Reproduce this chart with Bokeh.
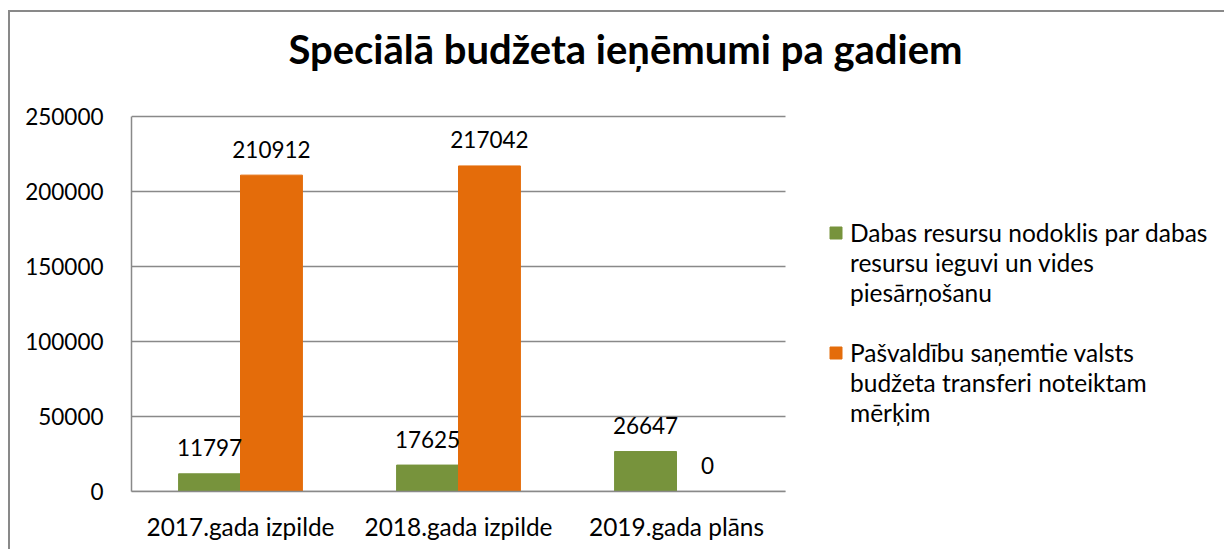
from bokeh.plotting import figure
from bokeh.models import (ColumnDataSource, Range1d, FixedTicker, Legend,
                          LegendItem, Label, NumeralTickFormatter)
from bokeh.transform import dodge
from bokeh.core.properties import value
from bokeh.embed import file_html
from bokeh.resources import INLINE

title_text = "Speciālā budžeta ieņēmumi pa gadiem"
categories = ["2017.gada izpilde", "2018.gada izpilde", "2019.gada plāns"]
dabas_resursu = [11797, 17625, 26647]
transferi = [210912, 217042, 0]
series_lines = [
    ["Dabas resursu nodoklis par dabas", "resursu ieguvi un vides", "piesārņošanu"],
    ["Pašvaldību saņemtie valsts", "budžeta transferi noteiktam", "mērķim"],
]
y_ticks = [0, 50000, 100000, 150000, 200000, 250000]

FONT = "Lato"
GREEN = "#77933C"
ORANGE = "#E46C0A"
GRID = "#898989"
FS_TICK = "22.5px"
FS_CAT = "24.4px"
FS_LEG = "24.5px"

# layout (pixels): chart area spans 131..785 horizontally, 116..491 vertically;
# the frame is extended to the canvas edge so title and legend can live inside it
W, H = 1216, 539
LEFT, BOTTOM = 121, 60
plot_px_w = 654
plot_px_h = 375
frame_w = W - LEFT
frame_h = H - BOTTOM
n = len(categories)
y_max = y_ticks[-1]
x_end = n * frame_w / plot_px_w
y_end = y_max * frame_h / plot_px_h

centers = [i + 0.5 for i in range(n)]
src = ColumnDataSource(dict(
    xc=centers,
    dabas=dabas_resursu,
    transf=transferi,
    dabas_lbl=[str(v) for v in dabas_resursu],
    transf_lbl=[str(v) for v in transferi],
))

p = figure(x_range=Range1d(0, x_end), y_range=Range1d(0, y_end),
           width=W, height=H, title=None,
           output_backend="svg", toolbar_location=None,
           min_border_left=LEFT, min_border_right=0,
           min_border_top=0, min_border_bottom=BOTTOM)
p.margin = (10, 0, 0, 8)
p.outline_line_color = None
p.background_fill_color = "white"
p.border_fill_color = "white"
p.styles = {"border-left": f"2px solid {GRID}", "border-top": f"2px solid {GRID}"}

# horizontal gridlines limited to the chart area
grid_src = ColumnDataSource(dict(y=y_ticks, x0=[0] * len(y_ticks), x1=[n] * len(y_ticks)))
p.segment(x0="x0", x1="x1", y0="y", y1="y", source=grid_src,
          line_color=GRID, line_width=1.5)

w = 0.284
r1 = p.vbar(x=dodge("xc", -w / 2), top="dabas", width=w,
            source=src, fill_color=GREEN, line_color=GREEN)
r2 = p.vbar(x=dodge("xc", w / 2), top="transf", width=w,
            source=src, fill_color=ORANGE, line_color=ORANGE)
blank = p.vbar(x="xc", top="dabas", width=0.0, source=src, fill_alpha=0, line_alpha=0)

p.text(x=dodge("xc", -w / 2), y="dabas", text="dabas_lbl", source=src,
       text_align="center", text_baseline="middle", y_offset=-26,
       text_font=value(FONT), text_font_size=FS_TICK, text_color="#000000")
p.text(x=dodge("xc", w / 2), y="transf", text="transf_lbl", source=src,
       text_align="center", text_baseline="middle", y_offset=-26,
       text_font=value(FONT), text_font_size=FS_TICK, text_color="#000000")

# axes
p.yaxis.ticker = FixedTicker(ticks=y_ticks)
p.yaxis.formatter = NumeralTickFormatter(format="0")
p.yaxis.bounds = (0, y_max)
p.xaxis.ticker = FixedTicker(ticks=centers)
p.xaxis.major_label_overrides = {c: lab for c, lab in zip(centers, categories)}
p.xaxis.bounds = (0, n)
for ax in (p.xaxis[0], p.yaxis[0]):
    ax.axis_line_color = GRID
    ax.axis_line_width = 1.5
    ax.major_tick_line_color = None
    ax.minor_tick_line_color = None
    ax.major_tick_out = 0
    ax.major_tick_in = 0
    ax.major_label_text_font = FONT
    ax.major_label_text_color = "#000000"
p.yaxis.major_label_text_font_size = FS_TICK
p.xaxis.major_label_text_font_size = FS_CAT
p.yaxis.major_label_standoff = 28
p.xaxis.major_label_standoff = 20
p.xgrid.grid_line_color = None
p.ygrid.grid_line_color = None

# title (screen units relative to the frame)
p.add_layout(Label(x=494, y=443, x_units="screen", y_units="screen", text=title_text,
                   text_align="center", text_baseline="alphabetic",
                   text_font=FONT, text_font_style="bold", text_font_size="40px",
                   text_color="#000000"))

items = [LegendItem(label=series_lines[0][0], renderers=[r1]),
         LegendItem(label=series_lines[0][1], renderers=[blank]),
         LegendItem(label=series_lines[0][2], renderers=[blank]),
         LegendItem(label=" ", renderers=[blank]),
         LegendItem(label=series_lines[1][0], renderers=[r2]),
         LegendItem(label=series_lines[1][1], renderers=[blank]),
         LegendItem(label=series_lines[1][2], renderers=[blank])]
legend = Legend(items=items, location=(697, 64), padding=0, margin=0, spacing=0,
                glyph_width=15, glyph_height=15, label_standoff=7, label_height=30,
                label_text_font=FONT, label_text_font_size=FS_LEG,
                label_text_color="#000000",
                border_line_color=None, background_fill_alpha=0)
p.add_layout(legend)

open("out.html", "w").write(file_html(p, INLINE))
